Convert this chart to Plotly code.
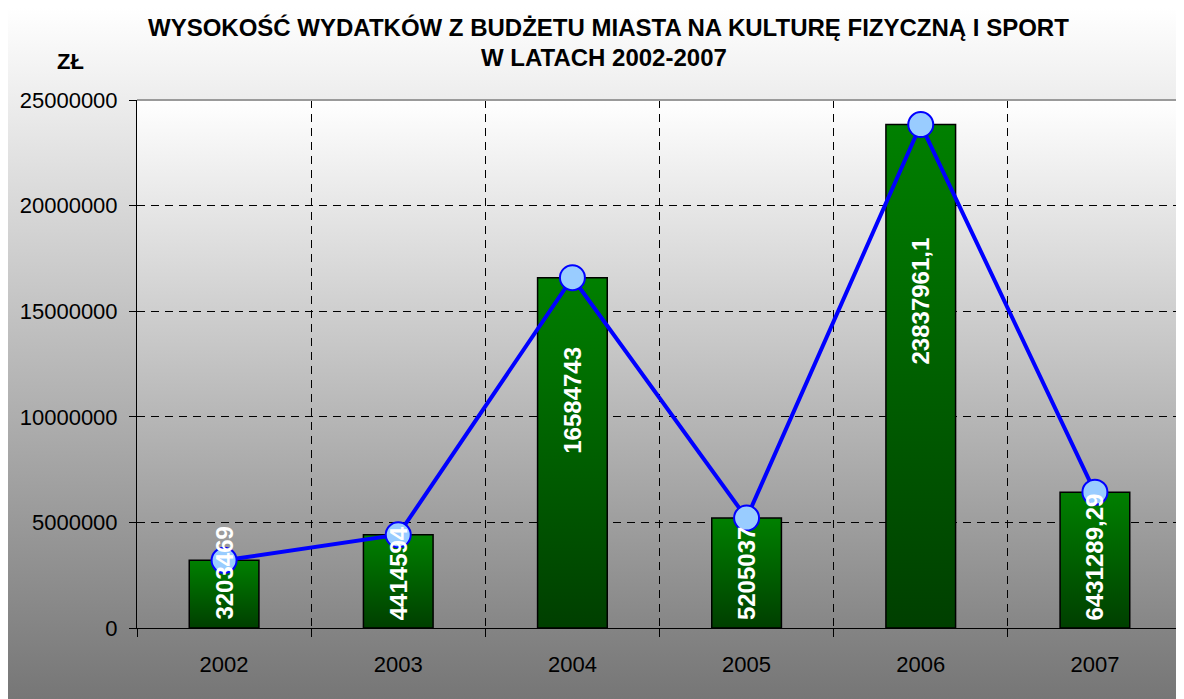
import base64
import plotly.graph_objects as go

# ---- data ----
years = ["2002", "2003", "2004", "2005", "2006", "2007"]
values = [3203469, 4414594, 16584743, 5205037, 23837961.1, 6431289.29]
value_labels = ["3203469", "4414594", "16584743", "5205037", "23837961,1", "6431289,29"]
y_tick_values = [0, 5000000, 10000000, 15000000, 20000000, 25000000]
y_tick_labels = ["0", "5000000", "10000000", "15000000", "20000000", "25000000"]
title_lines = ["WYSOKOŚĆ WYDATKÓW Z BUDŻETU MIASTA NA KULTURĘ FIZYCZNĄ I SPORT",
               "W LATACH 2002-2007"]
unit_text = "ZŁ"

# ---- layout constants (page has an 8px body margin) ----
OFF = 8
W, H = 1176, 691
ML, MR, MT, MB = 129, 2, 92, 71
PW, PH = W - ML - MR, H - MT - MB
BAR_HALF = 0.2
FONT = "Liberation Sans, Arial, sans-serif"


def px_x(page_px):
    return (page_px - OFF - ML) / PW


def px_y(page_px):
    return (H - MB - (page_px - OFF)) / PH


def svg_gradient(top, bottom):
    svg = (
        '<svg xmlns="http://www.w3.org/2000/svg" width="1000" height="1000" '
        'viewBox="0 0 1000 1000" preserveAspectRatio="none">'
        '<defs><linearGradient id="g" x1="0" y1="0" x2="0" y2="1">'
        f'<stop offset="0" stop-color="{top}"/><stop offset="1" stop-color="{bottom}"/>'
        '</linearGradient></defs>'
        '<rect x="0" y="0" width="1000" height="1000" fill="url(#g)"/></svg>'
    )
    return "data:image/svg+xml;base64," + base64.b64encode(svg.encode()).decode()


fig = go.Figure()

# bars as gradient-filled polygons
for i, v in enumerate(values):
    fig.add_trace(go.Scatter(
        x=[i - BAR_HALF, i - BAR_HALF, i + BAR_HALF, i + BAR_HALF, i - BAR_HALF],
        y=[0, v, v, 0, 0],
        mode="lines",
        fill="toself",
        fillgradient=dict(type="vertical", colorscale=[[0, "#003f00"], [1, "#008000"]]),
        line=dict(color="#000000", width=1.5),
        hoverinfo="skip",
        showlegend=False,
    ))

# line with markers
fig.add_trace(go.Scatter(
    x=list(range(len(years))),
    y=values,
    mode="lines+markers",
    line=dict(color="#0000ff", width=4),
    marker=dict(size=25, color="#99ccff", line=dict(color="#0000ff", width=2)),
    showlegend=False,
))

# value labels
annotations = []
label_font = dict(family=FONT, size=24, color="white", weight="bold")
for i, (v, lab) in enumerate(zip(values, value_labels)):
    if v > 10000000:
        annotations.append(dict(x=i, y=v * 0.65, text=lab, textangle=-90, showarrow=False,
                                xanchor="center", yanchor="middle", font=label_font))
    else:
        annotations.append(dict(x=i, y=0, text=lab, textangle=-90, showarrow=False,
                                xanchor="center", yanchor="bottom", yshift=6, font=label_font))

# title lines and unit label
title_font = dict(family=FONT, size=24, color="black", weight="bold")
annotations.append(dict(xref="paper", yref="paper", x=px_x(608), y=px_y(27), text=title_lines[0],
                        showarrow=False, xanchor="center", yanchor="middle", font=title_font))
annotations.append(dict(xref="paper", yref="paper", x=px_x(604), y=px_y(58), text=title_lines[1],
                        showarrow=False, xanchor="center", yanchor="middle", font=title_font))
annotations.append(dict(xref="paper", yref="paper", x=px_x(70), y=px_y(62),
                        text=unit_text, showarrow=False, xanchor="center", yanchor="middle",
                        font=dict(family=FONT, size=22, color="black", weight="bold")))

fig.update_layout(
    width=W, height=H,
    margin=dict(l=ML, r=MR, t=MT, b=MB, autoexpand=False),
    paper_bgcolor="white",
    plot_bgcolor="rgba(0,0,0,0)",
    annotations=annotations,
    images=[
        dict(source=svg_gradient("#ffffff", "#767676"), xref="paper", yref="paper",
             x=-ML / PW, y=1 + MT / PH, sizex=W / PW, sizey=H / PH,
             sizing="stretch", layer="below", xanchor="left", yanchor="top"),
        dict(source=svg_gradient("#ffffff", "#868686"), xref="paper", yref="paper",
             x=0, y=1, sizex=1, sizey=1, sizing="stretch", layer="below",
             xanchor="left", yanchor="top"),
    ],
    shapes=[
        dict(type="line", xref="paper", yref="paper", x0=0, x1=1, y0=1, y1=1,
             line=dict(color="#9a9a9a", width=2)),
        dict(type="line", xref="paper", yref="paper", x0=1, x1=1, y0=0, y1=1,
             line=dict(color="#9a9a9a", width=2)),
    ],
)

fig.update_xaxes(
    range=[-0.5, len(years) - 0.5],
    tickmode="array", tickvals=list(range(len(years))), ticktext=years,
    ticks="", showgrid=False, zeroline=False, automargin=False,
    showline=True, linecolor="black", linewidth=1,
    ticklabelstandoff=17,
    tickfont=dict(family=FONT, size=22, color="black"),
    minor=dict(tickmode="linear", tick0=-0.5, dtick=1, ticks="outside", ticklen=8,
               tickcolor="black", tickwidth=1, showgrid=True, gridcolor="black",
               gridwidth=1, griddash="8px,6px"),
    fixedrange=True,
)

fig.update_yaxes(
    range=[0, 25000000],
    tickmode="array", tickvals=y_tick_values, ticktext=y_tick_labels,
    ticks="outside", ticklen=7, tickcolor="black", tickwidth=1,
    showgrid=True, gridcolor="black", gridwidth=1, griddash="8px,6px",
    zeroline=False, showline=True, linecolor="black", linewidth=1, automargin=False,
    ticklabelstandoff=7,
    tickfont=dict(family=FONT, size=22, color="black"),
    fixedrange=True,
)

fig.write_html("out.html")
